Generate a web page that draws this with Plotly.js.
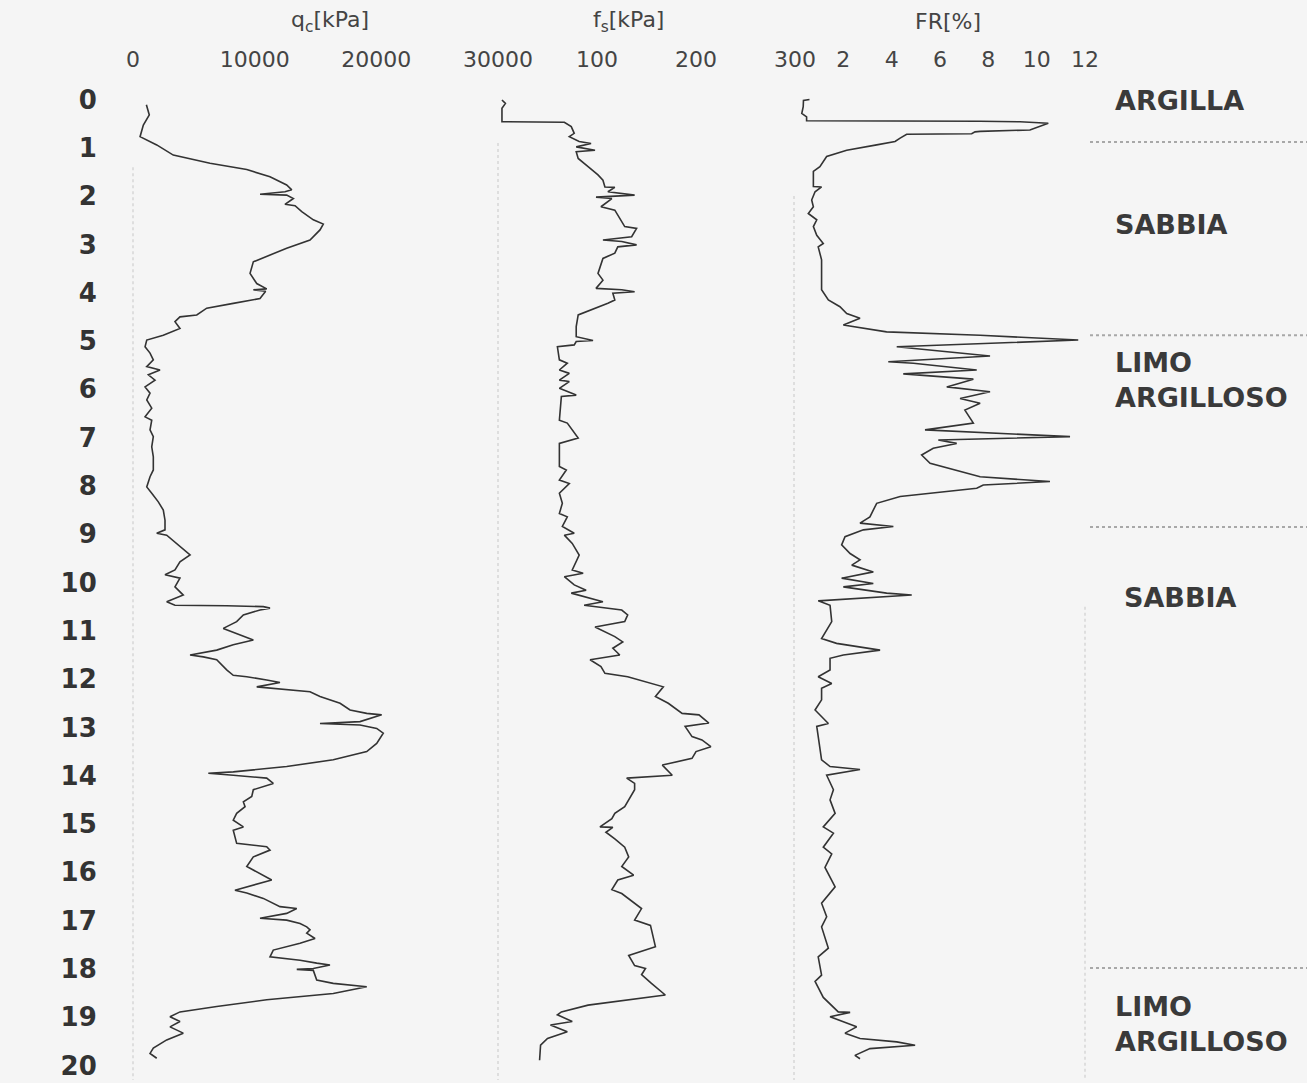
<!DOCTYPE html>
<html>
<head>
<meta charset="utf-8">
<script src="https://cdn.plot.ly/plotly-3.0.1.min.js"></script>
<style>
html,body{margin:0;padding:0;background:#f5f5f5;}
#chart{width:1307px;height:1083px;}
</style>
</head>
<body>
<div id="chart"></div>
<script>
// ---- Data (depth in m) ----
var qcDepth = [
0.11,0.32,0.53,0.77,0.94,1.15,1.32,1.45,1.60,1.77,
1.87,1.91,1.96,1.98,2.05,2.17,2.20,2.32,2.49,2.58,
2.70,2.91,3.08,3.22,3.36,3.60,3.81,3.92,3.94,3.97,
4.12,4.22,4.32,4.46,4.50,4.60,4.74,4.88,4.98,5.12,
5.25,5.39,5.53,5.60,5.70,5.81,5.95,6.08,6.22,6.39,
6.57,6.64,6.84,6.98,7.19,7.40,7.67,7.81,8.02,8.15,
8.33,8.50,8.71,8.91,8.98,9.02,9.19,9.43,9.57,9.74,
9.84,9.91,10.09,10.26,10.40,10.47,10.48,10.50,10.53,10.57,
10.67,10.81,10.95,11.05,11.19,11.29,11.40,11.50,11.54,11.60,
11.81,11.92,11.95,12.02,12.07,12.16,12.19,12.26,12.36,12.50,
12.64,12.71,12.74,12.88,12.92,12.95,13.02,13.12,13.33,13.50,
13.67,13.81,13.92,13.95,13.99,14.02,14.05,14.16,14.29,14.43,
14.54,14.64,14.78,14.92,15.06,15.13,15.40,15.47,15.54,15.68,
15.88,16.16,16.23,16.37,16.43,16.54,16.71,16.75,16.85,16.95,
16.99,17.06,17.13,17.19,17.26,17.37,17.47,17.61,17.75,17.82,
17.88,17.92,17.99,18.01,18.03,18.23,18.30,18.37,18.51,18.64,
18.78,18.89,18.99,19.09,19.20,19.33,19.47,19.64,19.75,19.85];
var qcValues = [
1100,1340,850,580,1950,3310,6330,9350,11260,12630,
13050,12490,10440,12630,13180,12490,13320,13870,14820,15640,
15370,14550,12630,11260,9890,9620,10170,10990,9890,10900,
10440,8240,6060,5240,3860,3450,3860,2490,1130,990,
1400,1670,1130,2220,1260,1810,990,1400,1130,1540,
990,1540,1400,1670,1540,1670,1670,1400,1130,1540,
2080,2490,2630,2630,1950,2770,3590,4690,3860,3450,
2630,3860,3450,4130,2770,3450,7700,10710,11260,10440,
9070,8520,7420,8520,9890,8240,6880,4690,5780,6880,
7700,8240,9350,10990,12080,10170,11530,14550,15370,17020,
17840,19210,20440,18660,15370,18660,20030,20570,20030,19210,
16460,12630,8240,6190,8240,9350,10990,11530,9890,9760,
9070,9210,8520,8240,9070,8240,8520,10990,11260,9890,
9350,11400,10440,8380,9350,10710,12080,13460,12630,10440,
12630,13730,14280,14550,14280,14960,13730,11530,11260,13730,
15100,16190,14820,13460,14820,15100,16460,19210,16460,10990,
6880,3860,3040,3860,3040,4130,2770,1670,1400,1950];

var fsDepth = [
0.01,0.08,0.18,0.46,0.47,0.56,0.70,0.77,0.87,0.91,
0.98,1.05,1.08,1.22,1.39,1.56,1.67,1.81,1.82,1.91,
1.98,2.02,2.05,2.22,2.29,2.63,2.67,2.84,2.91,2.94,
3.01,3.05,3.18,3.29,3.60,3.74,3.91,3.94,3.98,4.01,
4.15,4.22,4.46,4.70,4.91,4.99,5.01,5.08,5.12,5.39,
5.46,5.60,5.67,5.81,5.84,5.98,6.12,6.15,6.64,6.70,
7.01,7.12,7.60,7.67,7.88,7.95,8.15,8.36,8.57,8.64,
8.84,8.98,9.02,9.19,9.43,9.74,9.81,9.88,10.05,10.16,
10.22,10.40,10.47,10.57,10.67,10.81,10.92,11.12,11.23,11.36,
11.50,11.60,11.74,11.88,11.95,12.09,12.16,12.36,12.50,12.71,
12.74,12.91,12.98,13.19,13.26,13.40,13.50,13.64,13.78,13.99,
14.05,14.16,14.29,14.64,14.78,14.89,15.06,15.07,15.17,15.31,
15.48,15.68,15.88,16.06,16.16,16.36,16.44,16.75,16.99,17.10,
17.54,17.72,17.93,17.99,18.12,18.30,18.54,18.75,18.89,18.95,
19.09,19.16,19.30,19.44,19.58,19.89];
var fsValues = [
4,7.5,4,4,67,74,77,72,82,94,
79,98,79,81,91,101,106,108,118,111,
138,99,115,104,118,128,140,135,106,125,
140,121,118,106,101,106,99,125,138,116,
118,111,81,79,79,96,79,77,60,62,
70,62,72,62,72,62,79,64,62,70,
81,62,62,69,62,72,62,65,62,70,
65,77,67,75,82,75,86,67,77,89,
74,106,87,125,131,128,98,118,126,116,
123,93,104,108,131,155,167,159,172,186,
203,213,189,196,206,215,200,196,166,176,
130,138,138,128,118,115,103,116,109,118,
128,132,125,137,121,115,125,145,138,154,
159,132,138,149,145,155,169,91,64,60,
75,53,70,50,43,42];

var frDepth = [
0.00,0.02,0.15,0.29,0.36,0.44,0.45,0.46,0.49,0.63,
0.66,0.67,0.71,0.72,0.80,0.87,0.94,1.05,1.18,1.39,
1.49,1.80,1.81,1.91,2.08,2.22,2.36,2.49,2.63,2.81,
2.98,3.05,3.32,3.94,4.15,4.29,4.43,4.53,4.67,4.81,
4.88,4.94,4.98,5.12,5.31,5.43,5.46,5.60,5.68,5.79,
5.95,6.05,6.19,6.29,6.43,6.70,6.84,6.98,7.05,7.12,
7.22,7.36,7.53,7.81,7.91,7.98,8.05,8.22,8.36,8.64,
8.77,8.84,8.91,9.05,9.22,9.40,9.53,9.64,9.78,9.91,
10.02,10.09,10.22,10.26,10.38,10.47,10.81,11.16,11.26,11.40,
11.50,11.57,11.81,11.95,12.09,12.19,12.43,12.64,12.78,12.92,
12.98,13.67,13.81,13.87,13.99,14.29,14.50,14.78,15.06,15.19,
15.48,15.62,15.90,16.30,16.64,16.92,17.13,17.57,17.75,18.13,
18.26,18.59,18.89,18.90,18.99,19.20,19.33,19.44,19.51,19.58,
19.65,19.79,19.86];
var frValues = [
0.6,0.35,0.34,0.28,0.48,0.48,7.66,9.31,10.48,9.72,
7.66,7.45,7.31,4.62,4.35,4.14,3.38,2.14,1.31,1.03,
0.76,0.76,1.10,0.83,0.69,0.76,0.55,0.90,0.76,0.90,
1.17,0.96,1.10,1.10,1.38,1.86,2.14,2.69,2.00,3.79,
7.66,10.0,11.72,4.21,8.07,3.86,4.90,7.52,4.48,7.38,
6.28,8.07,6.83,7.66,7.03,7.38,5.38,11.38,5.93,6.69,
5.72,5.24,5.59,7.66,10.55,7.79,7.52,4.35,3.38,3.10,
2.69,4.07,2.83,2.07,1.93,2.28,2.69,2.35,3.24,1.93,
3.24,2.00,3.79,4.83,0.96,1.45,1.52,1.10,1.72,3.52,
2.00,1.45,1.45,0.96,1.52,1.10,1.10,0.83,1.10,1.38,
0.90,1.10,1.45,2.69,1.31,1.59,1.45,1.66,1.17,1.59,
1.17,1.52,1.24,1.66,1.10,1.31,1.10,1.38,0.96,1.10,
0.83,1.17,1.79,2.28,1.45,2.55,2.07,2.69,4.21,4.97,
3.10,2.48,2.69];

// Tick labels
var depthTicks = [0,1,2,3,4,5,6,7,8,9,10,11,12,13,14,15,16,17,18,19,20];
var qcTicks = [0,10000,20000,30000];
var fsTicks = [100,200,300];
var frTicks = [2,4,6,8,10,12];

// Soil layers
var layerNames = ['ARGILLA','SABBIA','LIMO<br>ARGILLOSO','SABBIA','LIMO<br>ARGILLOSO'];
var layerLabelDepth = [0.01,2.58,5.80,10.32,19.15];
var layerBounds = [0.88,4.88,8.85,17.98];

// ---- Layout ----
var lineStyle = {color:'#333333', width:1.6};
var traces = [
  {x:qcValues, y:qcDepth, xaxis:'x', yaxis:'y', mode:'lines', line:lineStyle, hoverinfo:'skip'},
  {x:fsValues, y:fsDepth, xaxis:'x2', yaxis:'y', mode:'lines', line:lineStyle, hoverinfo:'skip'},
  {x:frValues, y:frDepth, xaxis:'x3', yaxis:'y', mode:'lines', line:lineStyle, hoverinfo:'skip'}
];

var W = 952; // plot width in px
function px(p){ return (p-133)/W; }
var topFont = {family:'DejaVu Sans', size:22, color:'#444'};
function xax(domain, range, ticks){
  return {domain:domain, range:range, side:'top', anchor:'y', tickmode:'array',
    tickvals:ticks, ticktext:ticks.map(String), showgrid:false, zeroline:false,
    showline:false, ticks:'outside', ticklen:3, tickcolor:'rgba(0,0,0,0)',
    tickfont:topFont, fixedrange:true};
}

var shapes = [];
layerBounds.forEach(function(d){
  shapes.push({type:'line', xref:'paper', yref:'y', x0:px(1090), x1:px(1307), y0:d, y1:d,
    line:{color:'#a8a8a8', width:2, dash:'dot'}});
});
var vlines = [[px(133),1.4],[px(498),0.9],[px(794),2.0],[px(1085),10.5]];
vlines.forEach(function(v){
  shapes.push({type:'line', xref:'paper', yref:'y', x0:v[0], x1:v[0], y0:v[1], y1:20.3,
    line:{color:'#d6d6d6', width:1.5, dash:'dot'}});
});

var annotations = [
  {text:'q<sub>c</sub>[kPa]', x:px(330), y:1.058},
  {text:'f<sub>s</sub>[kPa]', x:px(628), y:1.058},
  {text:'FR[%]', x:px(948), y:1.058}
].map(function(a){
  return {text:a.text, x:a.x, y:a.y, xref:'paper', yref:'paper', showarrow:false,
    xanchor:'center', yanchor:'middle', font:{family:'DejaVu Sans', size:22, color:'#444'}};
});
layerNames.forEach(function(n,i){
  annotations.push({text:n, xref:'paper', yref:'y', x:(i===3?px(1122):px(1113)), y:layerLabelDepth[i],
    showarrow:false, xanchor:'left', yanchor:'middle', align:'left',
    font:{family:'DejaVu Sans', size:27, color:'#3a3a3a', weight:'bold'}});
});

var layout = {
  width:1307, height:1083,
  margin:{l:133, r:222, t:80, b:3},
  paper_bgcolor:'#f5f5f5', plot_bgcolor:'#f5f5f5',
  showlegend:false,
  xaxis: xax([0, px(498)], [0,30000], qcTicks),
  xaxis2: xax([px(498), px(795)], [0,300], fsTicks),
  xaxis3: xax([px(795), 1], [0,12], frTicks),
  yaxis: {range:[20.30,-0.404], tickmode:'array', tickvals:depthTicks, ticktext:depthTicks.map(String),
    showgrid:false, zeroline:false, showline:false, ticks:'outside', ticklen:30,
    tickcolor:'rgba(0,0,0,0)', tickfont:{family:'DejaVu Sans', size:26, color:'#333', weight:'bold'},
    fixedrange:true},
  shapes:shapes,
  annotations:annotations
};

Plotly.newPlot('chart', traces, layout, {displayModeBar:false, staticPlot:true});
</script>
</body>
</html>
